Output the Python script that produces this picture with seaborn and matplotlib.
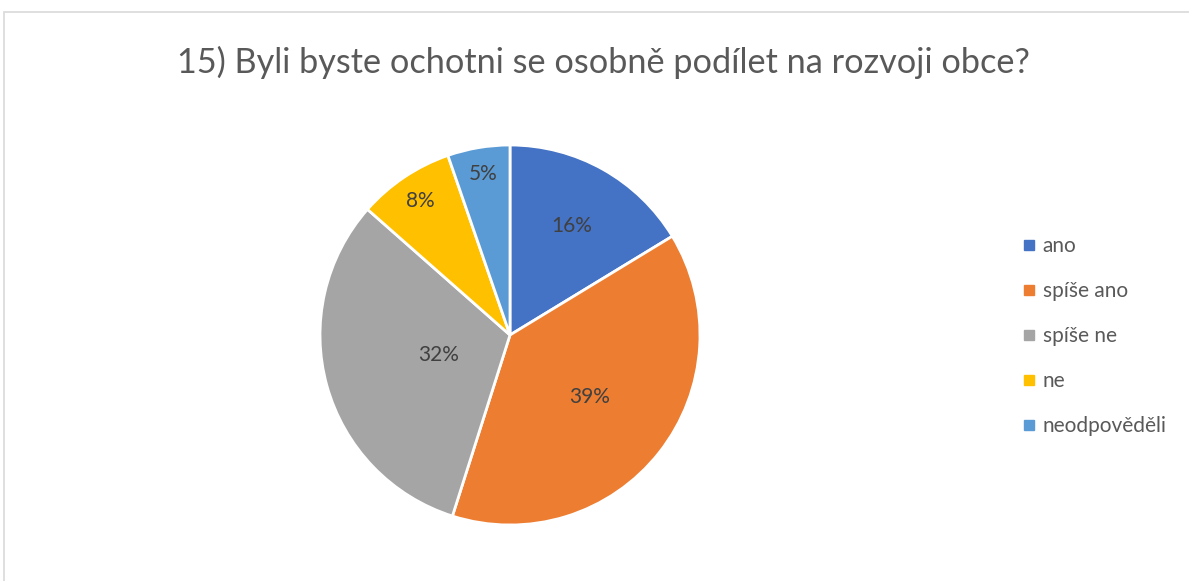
import numpy as np
import seaborn as sns
import matplotlib.pyplot as plt
from matplotlib.patches import Rectangle
from matplotlib.lines import Line2D

sns.set_theme(style="white")
plt.rcParams['font.family'] = ['Lato', 'DejaVu Sans']

title = "15) Byli byste ochotni se osobně podílet na rozvoji obce?"
answers = ["ano", "spíše ano", "spíše ne", "ne", "neodpověděli"]
shares = [16.3, 38.6, 31.6, 8.2, 5.3]
colors = ["#4472C4", "#ED7D31", "#A5A5A5", "#FFC000", "#5B9BD5"]
label_dist = [0.66, 0.53, 0.39, 0.85, 0.86]  # where Excel put each % label

fig = plt.figure(figsize=(11.89, 5.81), dpi=100)

# light chart-area border (runs off the right and bottom edge)
fig.patches.append(Rectangle((4 / 1189, -0.1), 1.2, 1.1 - 12 / 581,
                             transform=fig.transFigure, fill=False,
                             edgecolor="#D9D9D9", linewidth=1.2))

fig.text(603 / 1189, 1 - 62 / 581, title, ha="center", va="center",
         fontsize=24.7, color="#595959")

ax = fig.add_axes([320 / 1189, 56 / 581, 380 / 1189, 380 / 581])
wedges, _, autotexts = ax.pie(shares, colors=colors, startangle=90, counterclock=False,
                              autopct="%.0f%%", pctdistance=0.6,
                              wedgeprops=dict(edgecolor="white", linewidth=2),
                              textprops=dict(color="#404040", fontsize=15))
# move labels out to where they sit in the original
theta = 90.0
for t, s, d in zip(autotexts, shares, label_dist):
    mid = np.deg2rad(theta - s / 100 * 360 / 2)
    t.set_position((d * np.cos(mid), d * np.sin(mid)))
    theta -= s / 100 * 360
ax.set_xlim(-1, 1)
ax.set_ylim(-1, 1)
ax.set_aspect("equal")
ax.axis("off")

handles = [Line2D([], [], linestyle="none", marker="s", markersize=6.5,
                  markerfacecolor=c, markeredgecolor=c) for c in colors]
fig.legend(handles, answers, loc="center left",
           bbox_to_anchor=(1004 / 1189, 1 - 336 / 581), frameon=False,
           fontsize=15, labelcolor="#595959", handlelength=0.6,
           handletextpad=0.35, labelspacing=1.2)

fig.savefig("out.png", dpi=100)
